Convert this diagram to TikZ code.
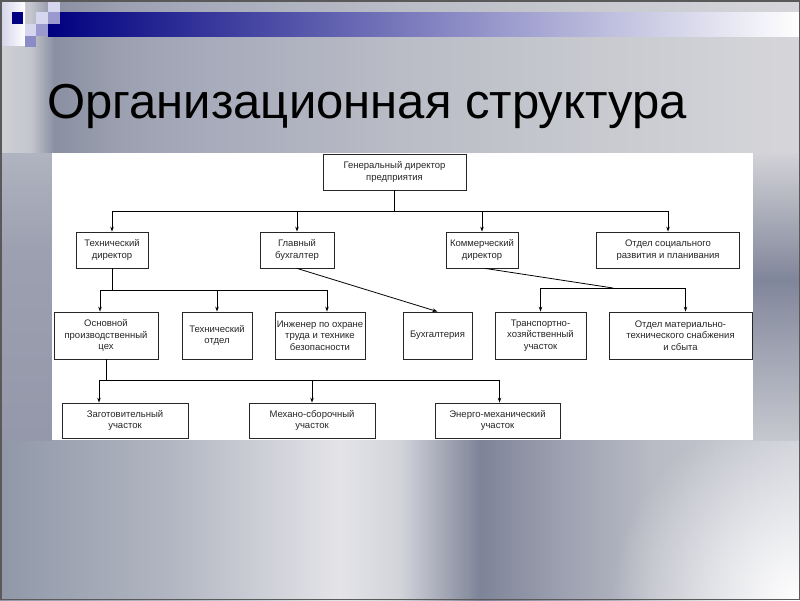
\documentclass[tikz,border=0pt]{standalone}
\usepackage{fontspec}
\setmainfont{Liberation Sans}
\usetikzlibrary{arrows.meta,calc,fadings}

\definecolor{navy}{RGB}{0,0,128}
\definecolor{lav}{HTML}{D6D6EE}
\definecolor{lavm}{HTML}{9A9ACE}
\definecolor{g1}{HTML}{9098A8}
\definecolor{g2}{HTML}{B2B6C2}
\definecolor{g3}{HTML}{E4E4E8}
\definecolor{g4}{HTML}{D2D4DA}
\definecolor{g5}{HTML}{7E8498}
\definecolor{g6}{HTML}{9CA0B0}
\definecolor{g7}{HTML}{B8BAC4}
\definecolor{g8}{HTML}{CCCED6}
\definecolor{t1}{HTML}{D0D0D6}
\definecolor{t2}{HTML}{C4C6CE}
\definecolor{t3}{HTML}{8A90A2}
\definecolor{t4}{HTML}{9CA0B0}
\definecolor{t5}{HTML}{A6AABA}
\definecolor{t6}{HTML}{BABCC6}
\definecolor{t7}{HTML}{C8CAD0}
\definecolor{t8}{HTML}{D6D6DA}
\definecolor{l1}{HTML}{9498AA}
\definecolor{l2}{HTML}{9CA0B0}
\definecolor{l3}{HTML}{B0B4C0}
\definecolor{r1}{HTML}{C6C8CF}
\definecolor{r2}{HTML}{A4A8B6}
\definecolor{r3}{HTML}{80869A}
\definecolor{r4}{HTML}{B4B6C0}
\definecolor{r5}{HTML}{D2D2D8}

\pgfdeclarehorizontalshading{lowsh}{100bp}{color(0bp)=(g1); color(25bp)=(g1); color(35.6bp)=(g2);
	color(46.2bp)=(g3); color(50bp)=(g4); color(55bp)=(g5); color(60bp)=(g6); color(65.6bp)=(g7);
	color(75bp)=(g8); color(100bp)=(g8)}
\pgfdeclarehorizontalshading{topsh}{100bp}{color(0bp)=(t1); color(25bp)=(t1); color(26.9bp)=(t2);
	color(28.4bp)=(t3); color(32.5bp)=(t4); color(37.5bp)=(t5); color(50bp)=(t6); color(62.5bp)=(t7);
	color(75bp)=(t8); color(100bp)=(t8)}
\pgfdeclareverticalshading{leftsh}{100bp}{color(0bp)=(l1); color(25bp)=(l1); color(58.1bp)=(l2);
	color(75bp)=(l3); color(100bp)=(l3)}
\pgfdeclareverticalshading{rightsh}{100bp}{color(0bp)=(r1); color(25bp)=(r1); color(38.9bp)=(r2);
	color(52.9bp)=(r3); color(66.8bp)=(r4); color(75bp)=(r5); color(100bp)=(r5)}
\tikzfading[name=glow, inner color=transparent!0, outer color=transparent!100]

\begin{document}
\begin{tikzpicture}[x=1pt, y=-1pt, line width=0.8pt,
			b/.style={draw=black!85, fill=white, align=center, inner sep=1pt,
				font=\fontsize{9.5}{11.5}\selectfont, text=black!85},
			arr/.style={-{Stealth[length=5pt, width=3.5pt]}}]
			\useasboundingbox (0,0) rectangle (800,600);
			\begin{scope}
				\clip (0,0) rectangle (800,600);
				\shade[shading=lowsh] (0,0) rectangle (800,600);
				\fill[white, path fading=glow] (800,600) circle (190);
			\end{scope}
			\shade[shading=topsh] (0,0) rectangle (800,153);
			\shade[shading=leftsh] (0,153) rectangle (52,440);
			\shade[shading=rightsh] (753,153) rectangle (800,440);
			\shade[left color=lavm!45, right color=white] (0,0) rectangle (25,45);
			\shade[left color=navy, right color=white] (48,12) rectangle (800,36);
			\fill[navy] (12,12) rectangle (23,24);
			\fill[lav] (25,24) rectangle (36,36);
			\fill[lav] (36,12) rectangle (48,24);
			\fill[lav] (48,0) rectangle (60,12);
			\fill[lavm] (48,12) rectangle (60,24);
			\fill[lavm] (36,24) rectangle (48,36);
			\fill[lavm!90!navy] (25,36) rectangle (36,47);
			\draw[black!65, line width=1.5pt] (0.75,0.75) rectangle (799.25,599.25);
			\node[anchor=base west, inner sep=0, font=\fontsize{49}{49}\selectfont] (ttl) at (47,118) {Организационная структура};
			\fill[white] (52,153) rectangle (753,440);
			\node[b, minimum width=143pt, minimum height=36pt] (gd) at (394.5,172) {Генеральный директор\\предприятия};
			\node[b, minimum width=72pt, minimum height=36pt] (td) at (112,250) {Технический\\директор};
			\node[b, minimum width=74pt, minimum height=36pt] (gb) at (297,250) {Главный\\бухгалтер};
			\node[b, minimum width=72pt, minimum height=36pt] (kd) at (482,250) {Коммерческий\\директор};
			\node[b, minimum width=143pt, minimum height=36pt] (os) at (668,250) {Отдел социального\\развития и планивания};
			\node[b, minimum width=104pt, minimum height=47pt] (pc) at (106,335.5) {Основной\\производственный\\цех};
			\node[b, minimum width=70pt, minimum height=47pt] (to) at (217,335.5) {Технический\\отдел};
			\node[b, minimum width=90pt, minimum height=47pt] (io) at (320,335.5) {Инженер по охране\\труда и технике\\безопасности};
			\node[b, minimum width=69pt, minimum height=47pt] (bh) at (437.5,335.5) {Бухгалтерия};
			\node[b, minimum width=91pt, minimum height=47pt] (tr) at (540.5,335.5) {Транспортно-\\хозяйственный\\участок};
			\node[b, minimum width=143pt, minimum height=47pt] (ms) at (680.5,335.5) {Отдел материально-\\технического снабжения\\и сбыта};
			\node[b, minimum width=126pt, minimum height=35pt] (zu) at (125,420.5) {Заготовительный\\участок};
			\node[b, minimum width=126pt, minimum height=35pt] (mu) at (312,420.5) {Механо-сборочный\\участок};
			\node[b, minimum width=125pt, minimum height=35pt] (eu) at (497.5,420.5) {Энерго-механический\\участок};
			\coordinate (s1) at (0,211);
			\coordinate (s2) at (0,290);
			\coordinate (s3) at (613,288);
			\coordinate (s4) at (0,380);
			\draw (gd) -- (gd.south |- s1);
			\draw (td.north |- s1) -- (os.north |- s1);
			\foreach \n in {td,gb,kd,os}
				\draw[arr] (\n.north |- s1) -- (\n.north);
			\draw[arr] (gb.south) -- (bh.north);
			\draw (td) -- (td.south |- s2);
			\draw ([xshift=-6]pc.north |- s2) -- ([xshift=7]io.north |- s2);
			\draw[arr] ([xshift=-6]pc.north |- s2) -- ([xshift=-6]pc.north);
			\draw[arr] (to.north |- s2) -- (to.north);
			\draw[arr] ([xshift=7]io.north |- s2) -- ([xshift=7]io.north);
			\draw ([xshift=3]kd.south) -- (s3);
			\draw (tr.north |- s3) -- ([xshift=5]ms.north |- s3);
			\draw[arr] (tr.north |- s3) -- (tr.north);
			\draw[arr] ([xshift=5]ms.north |- s3) -- ([xshift=5]ms.north);
			\draw (pc) -- (pc.south |- s4);
			\draw ([xshift=-26]zu.north |- s4) -- ([xshift=2]eu.north |- s4);
			\draw[arr] ([xshift=-26]zu.north |- s4) -- ([xshift=-26]zu.north);
			\draw[arr] (mu.north |- s4) -- (mu.north);
			\draw[arr] ([xshift=2]eu.north |- s4) -- ([xshift=2]eu.north);
		\end{tikzpicture}
\end{document}
